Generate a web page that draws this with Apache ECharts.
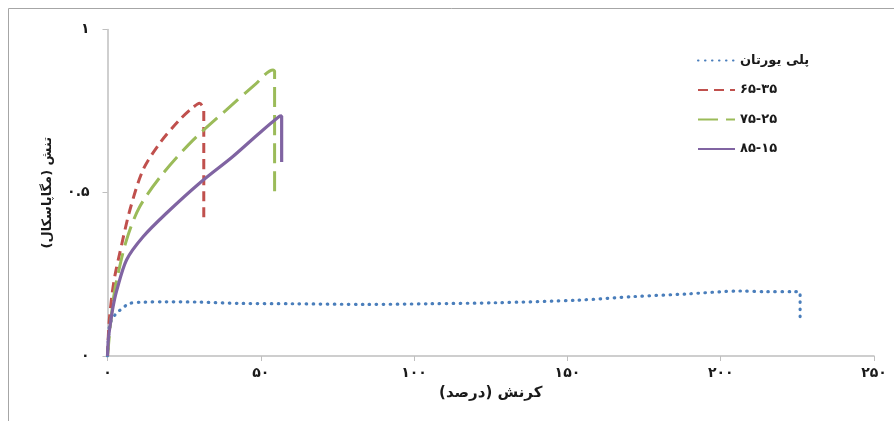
<!DOCTYPE html>
<html>
<head>
<meta charset="utf-8">
<script src="https://cdn.jsdelivr.net/npm/echarts@6/dist/echarts.min.js"></script>
<style>
  html, body { margin: 0; padding: 0; background: #fff; }
  #chart { width: 894px; height: 421px; }
</style>
</head>
<body>
<div id="chart"></div>
<script>
// Stress–strain curves: strain (%) on x, stress (MPa) on y
const seriesNames = ['پلی یورتان', '۶۵-۳۵', '۷۵-۲۵', '۸۵-۱۵'];

const polyurethane = [
  [0, 0], [0.5, 0.08], [0.8, 0.1], [2.4, 0.125], [4, 0.14], [7.3, 0.161],
  [12, 0.165], [19.2, 0.166], [30, 0.165], [44, 0.161], [60, 0.16],
  [84, 0.158], [105, 0.16], [126.4, 0.163], [153.4, 0.171], [171.8, 0.182],
  [189, 0.19], [206.4, 0.199], [215, 0.197], [223.8, 0.197], [225.9, 0.195],
  [225.9, 0.118]
];
const blend6535 = [
  [0, 0], [0.5, 0.1], [1.5, 0.19], [2.5, 0.25], [4, 0.315], [7.3, 0.447],
  [11.6, 0.57], [17, 0.651], [23.5, 0.723], [28, 0.762], [30, 0.774],
  [31.4, 0.752], [31.4, 0.41]
];
const blend7525 = [
  [0, 0], [1, 0.1], [2, 0.18], [3, 0.233], [6.2, 0.355], [10.5, 0.457],
  [18.1, 0.559], [27.9, 0.661], [38.7, 0.753], [48, 0.83], [54, 0.876],
  [54.5, 0.872], [54.5, 0.48]
];
const blend8515 = [
  [0, 0], [0.27, 0.05], [0.8, 0.09], [1.8, 0.15], [3, 0.2], [6.2, 0.294],
  [11.6, 0.365], [19.2, 0.437], [30, 0.529], [40.8, 0.61], [49.5, 0.682],
  [56, 0.733], [56.8, 0.735], [56.8, 0.594]
];

const xTickLabels = ['۰', '۵۰', '۱۰۰', '۱۵۰', '۲۰۰', '۲۵۰'];
const yTickLabels = ['۰', '۰.۵', '۱'];
const xName = 'کرنش (درصد)\u200F';
const yName = 'تنش (مگاپاسکال)\u200F';

const FONT = 'DejaVu Sans';
const axisGray = '#bfbfbf';
const textColor = '#1a1a1a';

function lineSeries(name, data, color, type, width, cap) {
  return {
    name: name,
    type: 'line',
    data: data,
    showSymbol: false,
    symbol: 'none',
    smooth: 0.3,
    lineStyle: { color: color, width: width, type: type, cap: cap || 'butt' },
    itemStyle: { color: color }
  };
}

const chart = echarts.init(document.getElementById('chart'), null, { renderer: 'canvas' });

chart.setOption({
  animation: false,
  backgroundColor: '#ffffff',
  textStyle: { fontFamily: FONT },
  graphic: [{
    type: 'rect',
    shape: { x: 8.5, y: 8.5, width: 1000, height: 1000 },
    style: { fill: 'none', stroke: '#a6a6a6', lineWidth: 1 },
    silent: true
  }],
  grid: { left: 107.5, right: 20, top: 29.4, bottom: 65, containLabel: false },
  legend: {
    orient: 'vertical',
    left: 697,
    top: 54,
    padding: 0,
    itemWidth: 37,
    itemHeight: 14,
    itemGap: 16.5,
    itemStyle: { opacity: 0 },
    textStyle: { fontFamily: FONT, fontWeight: 'bold', fontSize: 13, color: textColor },
    data: seriesNames
  },
  xAxis: {
    type: 'value',
    min: 0, max: 250, interval: 50,
    name: xName,
    nameLocation: 'middle',
    nameGap: 30,
    nameTextStyle: { fontFamily: FONT, fontWeight: 'bold', fontSize: 15, color: textColor },
    axisLine: { show: true, lineStyle: { color: axisGray, width: 1.5 } },
    axisTick: { show: true, inside: false, length: 5, lineStyle: { color: axisGray } },
    splitLine: { show: false },
    axisLabel: {
      margin: 10,
      fontFamily: FONT, fontWeight: 'bold', fontSize: 14, color: textColor,
      formatter: function (v) { return xTickLabels[Math.round(v / 50)]; }
    }
  },
  yAxis: {
    type: 'value',
    min: 0, max: 1, interval: 0.5,
    name: yName,
    nameLocation: 'middle',
    nameRotate: 90,
    nameGap: 53,
    nameTextStyle: { fontFamily: FONT, fontWeight: 'bold', fontSize: 13, color: textColor },
    axisLine: { show: true, lineStyle: { color: axisGray, width: 1.5 } },
    axisTick: { show: true, inside: false, length: 5, lineStyle: { color: axisGray } },
    splitLine: { show: false },
    axisLabel: {
      margin: 18,
      fontFamily: FONT, fontWeight: 'bold', fontSize: 14, color: textColor,
      formatter: function (v) { return yTickLabels[Math.round(v / 0.5)]; }
    }
  },
  series: [
    lineSeries(seriesNames[0], polyurethane, '#4a7ebb', [0.5, 6.5], 3.2, 'round'),
    lineSeries(seriesNames[1], blend6535, '#c0504d', [10, 6], 3),
    lineSeries(seriesNames[2], blend7525, '#9bbb59', [20, 8], 3),
    lineSeries(seriesNames[3], blend8515, '#8064a2', 'solid', 3.2)
  ]
});
</script>
</body>
</html>
